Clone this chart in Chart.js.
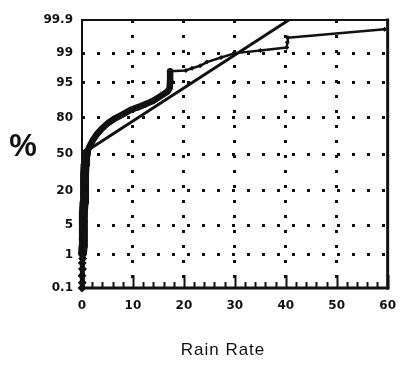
<!DOCTYPE html>
<html>
<head>
<meta charset="utf-8">
<script src="https://cdn.jsdelivr.net/npm/chart.js@4/dist/chart.umd.min.js"></script>
<style>
  html, body { margin: 0; padding: 0; background: #ffffff; }
  #wrap { width: 407px; height: 365px; position: relative; }
</style>
</head>
<body>
<div id="wrap"><canvas id="c" width="407" height="365"></canvas></div>
<script>
// Cumulative distribution of rain rate on normal-probability paper
const rainRate = [
  0, 0.05, 0, 0.1, 0.05, 0.15, 0.1, 0.2, 0.2, 0.25, 0.3, 0.35, 0.4, 0.45, 0.5, 0.55, 0.6, 0.7, 0.9,
  1.5, 2.2, 3, 4, 5.2, 6.5, 8, 9.5, 11, 12.5, 14, 15.5, 16.8, 17.2, 17.3, 17.3,
  20.4, 21.6, 23.2, 24.5, 27.3, 30.1, 35, 40.2, 40.3, 40.4, 59.4
];
const cumPercent = [
  0.1, 0.15, 0.25, 0.4, 0.6, 0.8, 1.1, 1.6, 2.5, 4, 6, 9, 13, 18, 25, 32, 40, 47, 51,
  57, 63, 68, 72.5, 76.5, 79.5, 82, 84.5, 86, 87.5, 89, 91, 92.5, 93.5, 95.5, 97.2,
  97.3, 97.6, 97.9, 98.3, 98.7, 99.0, 99.15, 99.3, 99.5, 99.63, 99.8
];
// Fitted normal line (straight on probability paper)
const fitRate = [0, 40.6];
const fitPercent = [50, 99.9];

const xTickStep = 2;
const xLabelStep = 10;
const yTickPercents = [0.1, 1, 5, 20, 50, 80, 95, 99, 99.9];
const yTickLabels = ['0.1', '1', '5', '20', '50', '80', '95', '99', '99.9'];

// Inverse standard normal CDF (Acklam's rational approximation)
function probit(p) {
  const a = [-3.969683028665376e+01, 2.209460984245205e+02, -2.759285104469687e+02,
             1.383577518672690e+02, -3.066479806614716e+01, 2.506628277459239e+00];
  const b = [-5.447609879822406e+01, 1.615858368580409e+02, -1.556989798598866e+02,
             6.680131188771972e+01, -1.328068155288572e+01];
  const c = [-7.784894002430293e-03, -3.223964580411365e-01, -2.400758277161838e+00,
             -2.549671180478740e+00, 4.374664141464968e+00, 2.938163982698783e+00];
  const d = [7.784695709041462e-03, 3.224671290700398e-01, 2.445134137142996e+00,
             3.754408661907416e+00];
  const pl = 0.02425;
  let q, r;
  if (p < pl) {
    q = Math.sqrt(-2 * Math.log(p));
    return (((((c[0]*q+c[1])*q+c[2])*q+c[3])*q+c[4])*q+c[5]) / ((((d[0]*q+d[1])*q+d[2])*q+d[3])*q+1);
  }
  if (p > 1 - pl) {
    q = Math.sqrt(-2 * Math.log(1 - p));
    return -(((((c[0]*q+c[1])*q+c[2])*q+c[3])*q+c[4])*q+c[5]) / ((((d[0]*q+d[1])*q+d[2])*q+d[3])*q+1);
  }
  q = p - 0.5; r = q * q;
  return (((((a[0]*r+a[1])*r+a[2])*r+a[3])*r+a[4])*r+a[5])*q / (((((b[0]*r+b[1])*r+b[2])*r+b[3])*r+b[4])*r+1);
}
const toZ = pct => probit(pct / 100);

const curvePoints = rainRate.map((x, i) => ({ x, y: toZ(cumPercent[i]) }));
const fitPoints = fitRate.map((x, i) => ({ x, y: toZ(fitPercent[i]) }));

const INK = '#111111';
const tickFont = { family: "'DejaVu Sans', sans-serif", size: 12, weight: 'bold' };

// Frame, inside tick marks and free-standing titles
const decor = {
  id: 'decor',
  afterDatasetsDraw(chart) {
    const { ctx, chartArea: a, scales } = chart;
    const xs = scales.x;
    ctx.save();
    ctx.strokeStyle = INK;
    ctx.lineCap = 'square';
    // tick marks pointing into the plot
    ctx.lineWidth = 2;
    for (let v = xs.min; v <= xs.max; v += xTickStep) {
      const px = Math.round(xs.getPixelForValue(v)) + 0.5;
      const len = v % xLabelStep === 0 ? 12 : 5;
      ctx.beginPath();
      ctx.moveTo(px, a.bottom);
      ctx.lineTo(px, a.bottom - len);
      ctx.stroke();
    }
    // box
    ctx.lineWidth = 2;
    ctx.beginPath(); ctx.moveTo(a.left, a.top); ctx.lineTo(a.right, a.top); ctx.stroke();
    ctx.beginPath(); ctx.moveTo(a.left, a.top); ctx.lineTo(a.left, a.bottom); ctx.stroke();
    ctx.lineWidth = 3;
    ctx.beginPath(); ctx.moveTo(a.right, a.top); ctx.lineTo(a.right, a.bottom); ctx.stroke();
    ctx.beginPath(); ctx.moveTo(a.left, a.bottom); ctx.lineTo(a.right, a.bottom); ctx.stroke();
    // axis titles
    ctx.fillStyle = INK;
    ctx.textAlign = 'center';
    ctx.textBaseline = 'middle';
    ctx.font = "bold 31px 'Liberation Sans', Arial, sans-serif";
    ctx.fillText('%', 23, 147);
    ctx.font = "17px 'Liberation Sans', Arial, sans-serif";
    try { ctx.letterSpacing = '1px'; } catch (e) {}
    ctx.fillText('Rain Rate', 223, 350);
    ctx.restore();
  }
};

new Chart(document.getElementById('c'), {
  type: 'scatter',
  data: {
    datasets: [
      {
        label: 'Observed',
        data: curvePoints,
        showLine: true,
        borderColor: INK,
        backgroundColor: INK,
        borderWidth: 2.5,
        borderJoinStyle: 'round',
        borderCapStyle: 'round',
        segment: {
          borderWidth: ctx => {
            const x = ctx.p1.parsed.x;
            const z = ctx.p1.parsed.y;
            if (x <= 1) return z > toZ(1.2) ? 9 : 5;
            return x <= 17.3 ? 6.5 : 2.5;
          }
        },
        pointStyle: 'rectRot',
        pointRadius: ctx => {
          const x = ctx.raw ? ctx.raw.x : 0;
          return x <= 1 ? 4.5 : (x <= 17.3 ? 3.5 : 2.5);
        },
        pointBorderWidth: 0,
        clip: false,
        tension: 0
      },
      {
        label: 'Normal fit',
        data: fitPoints,
        showLine: true,
        borderColor: INK,
        borderWidth: 3,
        pointRadius: 0,
        tension: 0
      }
    ]
  },
  plugins: [decor],
  options: {
    responsive: false,
    animation: false,
    devicePixelRatio: 1,
    layout: { padding: { left: 0, top: 20, right: 7, bottom: 47 } },
    plugins: { legend: { display: false }, tooltip: { enabled: false } },
    scales: {
      x: {
        type: 'linear',
        min: 0,
        max: 60,
        afterFit: s => { s.height = 30; },
        border: { display: false, dash: [3, 12] },
        grid: {
          drawTicks: false,
          lineWidth: 3,
          color: ctx => {
            const v = ctx.tick ? ctx.tick.value : 0;
            return (v % xLabelStep === 0 && v > 0 && v < 60) ? INK : 'rgba(0,0,0,0)';
          }
        },
        ticks: {
          stepSize: xTickStep,
          autoSkip: false,
          maxRotation: 0,
          padding: 11,
          color: INK,
          font: tickFont,
          callback: v => (v % xLabelStep === 0 ? String(v) : '')
        }
      },
      y: {
        type: 'linear',
        min: toZ(yTickPercents[0]),
        max: toZ(yTickPercents[yTickPercents.length - 1]),
        afterFit: s => { s.width = 82; },
        afterBuildTicks: s => {
          s.ticks = yTickPercents.map(p => ({ value: toZ(p) }));
        },
        border: { display: false, dash: [3, 12] },
        grid: {
          drawTicks: false,
          lineWidth: 3,
          color: ctx => (ctx.index > 0 && ctx.index < yTickPercents.length - 1) ? INK : 'rgba(0,0,0,0)'
        },
        ticks: {
          padding: 9,
          color: INK,
          font: tickFont,
          callback: (v, i) => yTickLabels[i]
        }
      }
    }
  }
});
</script>
</body>
</html>
